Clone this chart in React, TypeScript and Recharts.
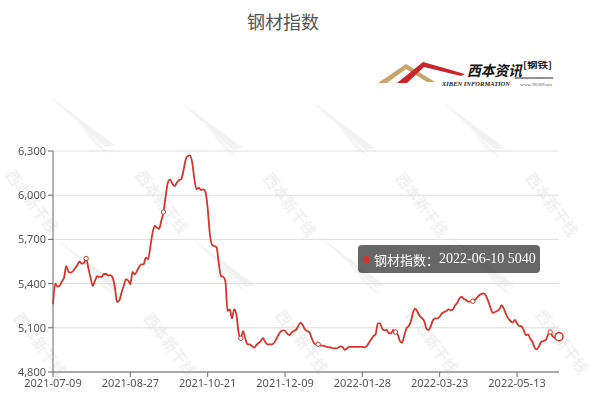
import React from 'react';
import { LineChart, Line, XAxis, YAxis, CartesianGrid, Tooltip } from 'recharts';

const seriesName = '钢材指数';

// trading calendar used by the index (weekdays, minus holidays, plus make-up workdays)
const firstDay = '2021-07-09';
const lastDay = '2022-06-10';
const holidays = [
  '2021-09-20', '2021-09-21', '2021-10-01', '2021-10-04', '2021-10-05', '2021-10-06', '2021-10-07',
  '2022-01-03', '2022-01-31', '2022-02-01', '2022-02-02', '2022-02-03', '2022-02-04',
  '2022-04-04', '2022-04-05', '2022-05-02', '2022-05-03', '2022-05-04', '2022-06-03',
];
const makeupDays = ['2021-09-18', '2021-09-26', '2021-10-09', '2022-01-29', '2022-01-30', '2022-04-02', '2022-04-24', '2022-05-07'];

const steelIndex = [
  5260, 5400, 5380, 5385, 5415, 5440, 5520, 5480, 5475, 5485,
  5505, 5525, 5550, 5535, 5540, 5570, 5505, 5440, 5385, 5420,
  5450, 5445, 5445, 5465, 5465, 5455, 5458, 5440, 5375, 5275,
  5285, 5338, 5384, 5429, 5422, 5395, 5479, 5463, 5485, 5515,
  5530, 5530, 5576, 5565, 5644, 5741, 5791, 5780, 5772, 5825,
  5886, 5994, 6088, 6108, 6079, 6061, 6084, 6102, 6108, 6164,
  6239, 6266, 6270, 6221, 6108, 6040, 6051, 6035, 6040, 6022,
  5910, 5735, 5662, 5655, 5648, 5542, 5451, 5447, 5418, 5214,
  5225, 5164, 5225, 5191, 5067, 5029, 5078, 5029, 4988, 4988,
  4976, 4965, 4982, 4997, 5010, 5029, 5005, 4988, 4988, 4988,
  4997, 5022, 5051, 5074, 5083, 5080, 5060, 5050, 5067, 5078,
  5087, 5112, 5135, 5119, 5090, 5078, 5070, 5033, 4999, 4988,
  4988, 4981, 4979, 4976, 4970, 4967, 4965, 4960, 4960, 4965,
  4974, 4970, 4950, 4960, 4970, 4970, 4970, 4970, 4970, 4970,
  4970, 4967, 4976, 4999, 5022, 5044, 5056, 5130, 5130, 5094,
  5083, 5085, 5063, 5063, 5085, 5071, 5056, 5010, 4999, 5049,
  5097, 5112, 5146, 5207, 5230, 5207, 5180, 5166, 5146, 5094,
  5085, 5112, 5153, 5164, 5164, 5175, 5198, 5207, 5214, 5225,
  5220, 5225, 5253, 5270, 5302, 5309, 5295, 5289, 5277, 5277,
  5280, 5289, 5306, 5323, 5330, 5334, 5316, 5280, 5236, 5202,
  5207, 5214, 5225, 5253, 5230, 5194, 5164, 5148, 5135, 5153,
  5130, 5112, 5112, 5085, 5049, 5056, 5026, 5004, 4965, 4954,
  4976, 5006, 5010, 5017, 5051, 5071, 5044, 5033, 5037, 5040,
];

const yTicks = [4800, 5100, 5400, 5700, 6000, 6300];

const RED = '#d6342c';

function tradingDays(): string[] {
  const out: string[] = [];
  const [y, m, d] = firstDay.split('-').map(Number);
  const cur = new Date(Date.UTC(y, m - 1, d));
  for (let n = 0; n < 400; n++) {
    const s = cur.toISOString().slice(0, 10);
    const wd = cur.getUTCDay();
    const open = (wd !== 0 && wd !== 6 && !holidays.includes(s)) || makeupDays.includes(s);
    if (open) out.push(s);
    if (s === lastDay) break;
    cur.setUTCDate(cur.getUTCDate() + 1);
  }
  return out;
}

const dates = tradingDays();
const data = steelIndex.map((v, i) => ({ date: dates[i], value: v }));

const SampleDot = (props: any) => {
  const { cx, cy, index } = props;
  if (index % 35 !== 15) return <g key={`d-${index}`} />;
  return <circle key={`d-${index}`} cx={cx} cy={cy} r={2.2} fill="#fff" stroke={RED} strokeWidth={1} />;
};

const TipBox = ({ active, payload }: any) => {
  if (!active || !payload || !payload.length) return null;
  const p = payload[0].payload;
  return (
    <div
      style={{
        background: 'rgba(60,60,60,0.78)',
        borderRadius: 4,
        width: 182,
        height: 28,
        boxSizing: 'border-box',
        padding: '0 0 0 5px',
        display: 'flex',
        alignItems: 'center',
        color: '#fff',
        whiteSpace: 'nowrap',
      }}
    >
      <span style={{ display: 'inline-block', width: 7, height: 7, borderRadius: 4, background: RED, marginRight: 4 }} />
      <span style={{ fontFamily: '"Noto Sans CJK SC", sans-serif', fontSize: 13 }}>{seriesName}：</span>
      <span style={{ fontFamily: '"Liberation Serif", serif', fontSize: 14 }}>
        {p.date} {p.value}
      </span>
    </div>
  );
};

const Watermark = ({ x, y }: { x: number; y: number }) => (
  <g transform={`translate(${x},${y})`} opacity={0.5}>
    <path d="M -85 -78 L -20 -30 L -30 -28 Z" fill="#e4e4e4" />
    <path d="M -70 -70 L -25 -20 L -40 -30 Z" fill="#ececec" />
    <text
      transform="rotate(53)"
      x={0}
      y={0}
      fontSize={15}
      fill="#e2e2e2"
      fontFamily='"Noto Sans CJK SC", sans-serif'
      fontWeight="bold"
    >
      西本新干线
    </text>
  </g>
);

const wmPoints = [
  [5, 175], [135, 175], [263, 178], [395, 178], [525, 178],
  [13, 318], [143, 318], [275, 315], [405, 315], [535, 315],
];

const Logo = () => (
  <svg width={190} height={40} style={{ position: 'absolute', left: 375, top: 52 }}>
    <path d="M 3 31 L 31 12 L 60 30 L 52 30 L 31 17 L 12 31 Z" fill="#c9a46a" />
    <path d="M 22 31 L 48 10 L 90 22 L 86 24 L 49 15 L 32 31 Z" fill="#c8262c" />
    <text x={92} y={24} fontSize={14.5} fontWeight="bold" fontStyle="italic" fill="#111" fontFamily='"Noto Sans CJK SC", sans-serif' textLength={55} lengthAdjust="spacingAndGlyphs">
      西本资讯
    </text>
    <text x={148} y={16} fontSize={8.5} fontWeight="bold" fill="#222" fontFamily='"Noto Sans CJK SC", sans-serif' textLength={29} lengthAdjust="spacingAndGlyphs">
      [钢铁]
    </text>
    <line x1={140} y1={26} x2={178} y2={26} stroke="#222" strokeWidth={1} />
    <text x={67} y={34} fontSize={6} fontWeight="bold" fontStyle="italic" fill="#222" fontFamily='"Liberation Serif", serif' textLength={68} lengthAdjust="spacingAndGlyphs">
      XIBEN INFORMATION
    </text>
    <text x={145} y={34} fontSize={4.5} fill="#555" fontFamily='"Liberation Serif", serif' textLength={32} lengthAdjust="spacingAndGlyphs">
      www.96369.net
    </text>
  </svg>
);

export default function App() {
  return (
    <div style={{ position: 'absolute', left: 0, top: 0, width: 602, height: 400, background: '#fff', overflow: 'hidden' }}>
      <svg width={602} height={400} style={{ position: 'absolute', left: 0, top: 0 }}>
        {wmPoints.map(([x, y], i) => (
          <Watermark key={i} x={x} y={y} />
        ))}
      </svg>
      <div
        style={{
          position: 'absolute',
          left: 0,
          top: 8,
          width: 602,
          textAlign: 'center',
          fontSize: 18,
          color: '#555',
          fontFamily: '"Noto Sans CJK SC", sans-serif',
          paddingRight: 36,
          boxSizing: 'border-box',
        }}
      >
        {seriesName}
      </div>
      <Logo />
      <div style={{ position: 'absolute', left: 0, top: 0 }}>
        <LineChart width={602} height={400} data={data} margin={{ top: 151, right: 43, bottom: 8, left: 0 }}>
          <CartesianGrid vertical={false} stroke="#dedede" />
          <XAxis
            dataKey="date"
            interval={34}
            height={20}
            tickSize={5}
            axisLine={{ stroke: '#666' }}
            tickLine={{ stroke: '#666' }}
            tick={{ fill: '#555', fontSize: 11, fontFamily: '"Noto Sans", sans-serif' }}
          />
          <YAxis
            width={53}
            domain={[4800, 6300]}
            ticks={yTicks}
            tickSize={5}
            axisLine={{ stroke: '#666' }}
            tickLine={{ stroke: '#666' }}
            tick={{ fill: '#555', fontSize: 11, fontFamily: '"Noto Sans", sans-serif' }}
            tickFormatter={(v: number) => v.toLocaleString('en-US')}
          />
          <Tooltip
            active={true}
            defaultIndex={229}
            cursor={false}
            position={{ x: 358, y: 245 }}
            content={<TipBox />}
            isAnimationActive={false}
            wrapperStyle={{ outline: 'none' }}
          />
          <Line
            type="monotone"
            dataKey="value"
            name={seriesName}
            stroke={RED}
            strokeWidth={1.8}
            dot={SampleDot}
            activeDot={{ r: 4, fill: '#fff', stroke: RED, strokeWidth: 1.5 }}
            isAnimationActive={false}
          />
        </LineChart>
      </div>
    </div>
  );
}
